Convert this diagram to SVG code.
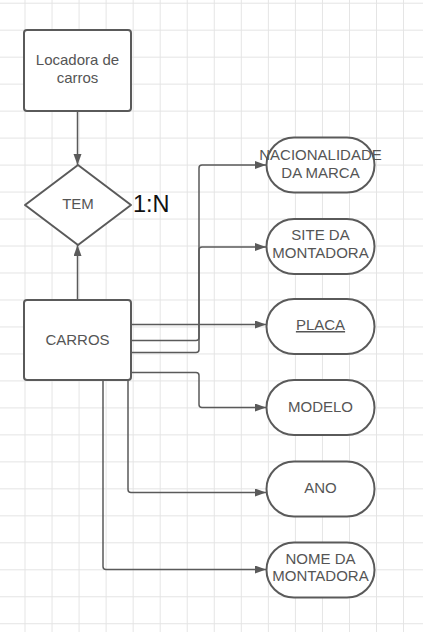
<svg xmlns="http://www.w3.org/2000/svg" width="423" height="632" viewBox="0 0 423 632">
<defs>
<pattern id="grid" x="24.5" y="2.7" width="27.04" height="26.98" patternUnits="userSpaceOnUse">
<path d="M0.5,0 V26.98 M0,0.5 H27.04" fill="none" stroke="#e4e4e4" stroke-width="1"/>
</pattern>
<marker id="arr" markerUnits="userSpaceOnUse" markerWidth="12" markerHeight="10" refX="11" refY="4" orient="auto">
<path d="M0,0 L11,4 L0,8 z" fill="#5a5a5a"/>
</marker>
<style>
.box{fill:#fff;stroke:#5a5a5a;stroke-width:2}
.conn{fill:none;stroke:#5a5a5a;stroke-width:1.5;marker-end:url(#arr)}
.lbl{font-family:"Liberation Sans",Arial,sans-serif;font-size:15px;fill:#555;text-anchor:middle}
</style>
</defs>
<rect width="423" height="632" fill="#fff"/>
<rect width="423" height="632" fill="url(#grid)"/>
<g id="connectors">
<path class="conn" d="M77.5,111 V165"/>
<path class="conn" d="M77.5,300 V245"/>
<path class="conn" d="M131,352.5 H196 Q199,352.5 199,349.5 V168 Q199,165 202,165 H266"/>
<path class="conn" d="M131,340.5 H196 Q199,340.5 199,337.5 V250 Q199,247 202,247 H266"/>
<path class="conn" d="M131,324.5 H266"/>
<path class="conn" d="M131,372.5 H196 Q199,372.5 199,375.5 V404.5 Q199,407.5 202,407.5 H266"/>
<path class="conn" d="M128,380 V489.5 Q128,492.5 131,492.5 H266"/>
<path class="conn" d="M103,380 V566.5 Q103,569.5 106,569.5 H266"/>
</g>
<g id="locadora">
<rect class="box" x="24" y="30" width="107" height="81" rx="3"/>
<text class="lbl" x="77.5" y="65">Locadora de</text>
<text class="lbl" x="77.5" y="82.5">carros</text>
</g>
<g id="tem">
<path class="box" d="M78,165 L131,205 L78,245 L25,205 Z" stroke-linejoin="round"/>
<text class="lbl" x="78" y="209">TEM</text>
</g>
<g id="cardinality">
<text x="133" y="212" font-family="Liberation Sans,Arial,sans-serif" font-size="23.5" fill="#111">1:N</text>
</g>
<g id="carros">
<rect class="box" x="24" y="300" width="107" height="80" rx="3"/>
<text class="lbl" x="77.5" y="345">CARROS</text>
</g>
<g id="nacionalidade">
<rect class="box" x="266.5" y="137.5" width="108" height="55" rx="27.5"/>
<text class="lbl" x="320.5" y="160">NACIONALIDADE</text>
<text class="lbl" x="320.5" y="177.7">DA MARCA</text>
</g>
<g id="site">
<rect class="box" x="266.5" y="219" width="108" height="55" rx="27.5"/>
<text class="lbl" x="320.5" y="240">SITE DA</text>
<text class="lbl" x="320.5" y="257.7">MONTADORA</text>
</g>
<g id="placa">
<rect class="box" x="266.5" y="299" width="108" height="55" rx="27.5"/>
<text class="lbl" x="320.5" y="330" text-decoration="underline">PLACA</text>
</g>
<g id="modelo">
<rect class="box" x="266.5" y="380" width="108" height="55" rx="27.5"/>
<text class="lbl" x="320.5" y="411.5">MODELO</text>
</g>
<g id="ano">
<rect class="box" x="266.5" y="461.5" width="108" height="55" rx="27.5"/>
<text class="lbl" x="320.5" y="492.5">ANO</text>
</g>
<g id="nome">
<rect class="box" x="266.5" y="542.5" width="108" height="55" rx="27.5"/>
<text class="lbl" x="320.5" y="563.5">NOME DA</text>
<text class="lbl" x="320.5" y="581">MONTADORA</text>
</g>
</svg>
